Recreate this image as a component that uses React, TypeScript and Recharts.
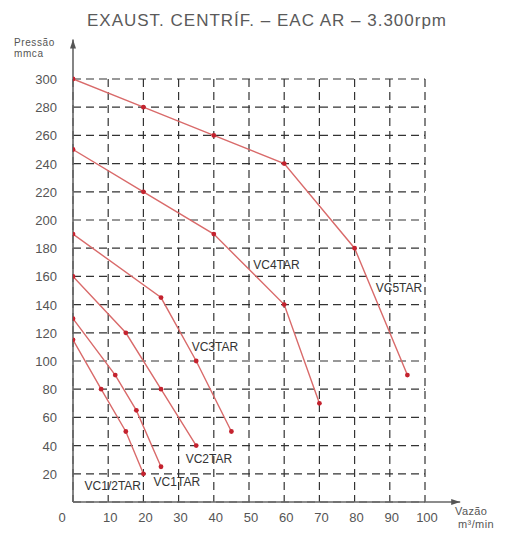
import React from 'react';
import { LineChart, Line, XAxis, YAxis, CartesianGrid, ReferenceLine, ReferenceDot } from 'recharts';

const title = 'EXAUST. CENTRÍF. – EAC AR – 3.300rpm';
const xTicks = [0, 10, 20, 30, 40, 50, 60, 70, 80, 90, 100];
const yTicks = [20, 40, 60, 80, 100, 120, 140, 160, 180, 200, 220, 240, 260, 280, 300];

const seriesNames = ['VC5TAR', 'VC4TAR', 'VC3TAR', 'VC2TAR', 'VC1TAR', 'VC1/2TAR'];

const vc5Flow = [0, 20, 40, 60, 80, 95];
const vc5Press = [300, 280, 260, 240, 180, 90];
const vc4Flow = [0, 20, 40, 60, 70];
const vc4Press = [250, 220, 190, 140, 70];
const vc3Flow = [0, 25, 35, 45];
const vc3Press = [190, 145, 100, 50];
const vc2Flow = [0, 15, 25, 35];
const vc2Press = [160, 120, 80, 40];
const vc1Flow = [0, 12, 18, 25];
const vc1Press = [130, 90, 65, 25];
const vcHalfFlow = [0, 8, 15, 20];
const vcHalfPress = [115, 80, 50, 20];

// label anchors (data coordinates)
const labelFlow = [92.6, 57.8, 40.3, 38.6, 29.5, 11.3];
const labelPress = [152, 168, 110, 31, 14.5, 11.5];

const flows = [vc5Flow, vc4Flow, vc3Flow, vc2Flow, vc1Flow, vcHalfFlow];
const presses = [vc5Press, vc4Press, vc3Press, vc2Press, vc1Press, vcHalfPress];

const seriesData = flows.map((f, i) => f.map((x, j) => ({ x, y: presses[i][j] })));

const LINE_COLOR = '#d96a6a';
const DOT_COLOR = '#c4222e';
const TEXT_COLOR = '#555';
const FONT = 'Liberation Sans, Arial, sans-serif';

const ArrowLine = (props: any) => {
  const { x1, y1, x2, y2 } = props;
  const ang = Math.atan2(y2 - y1, x2 - x1);
  const L = 9;
  const W = 3;
  const bx = x2 - L * Math.cos(ang);
  const by = y2 - L * Math.sin(ang);
  const pts = `${x2},${y2} ${bx + W * Math.sin(ang)},${by - W * Math.cos(ang)} ${bx - W * Math.sin(ang)},${by + W * Math.cos(ang)}`;
  return (
    <g>
      <line x1={x1} y1={y1} x2={x2} y2={y2} stroke="#666" strokeWidth={1.6} />
      <polygon points={pts} fill="#555" />
    </g>
  );
};

const XTick = (props: any) => {
  const { x, y, payload } = props;
  const isZero = payload.value === 0;
  return (
    <text x={x + (isZero ? -11 : 2)} y={y + 12} textAnchor="middle" fill={TEXT_COLOR} fontSize={13} fontFamily={FONT}>
      {payload.value}
    </text>
  );
};

const YTick = (props: any) => {
  const { x, y, payload } = props;
  return (
    <text x={x - 8} y={y + 5} textAnchor="end" fill={TEXT_COLOR} fontSize={13} fontFamily={FONT}>
      {payload.value}
    </text>
  );
};

export default function App() {
  return (
    <div style={{ position: 'absolute', left: 0, top: 0, width: 512, height: 533, background: '#fff', fontFamily: FONT }}>
      <div style={{ position: 'absolute', left: 22, width: 490, top: 11, textAlign: 'center', fontSize: 17, color: '#5a5a5a', letterSpacing: 1, whiteSpace: 'nowrap' }}>
        {title}
      </div>
      <div style={{ position: 'absolute', left: 14, top: 37, fontSize: 10, lineHeight: '11px', color: '#555', letterSpacing: 0.6 }}>
        Pressão<br />mmca
      </div>
      <div style={{ position: 'absolute', left: 455, top: 505, fontSize: 11, lineHeight: '13px', color: '#555', letterSpacing: 0.4 }}>
        Vazão<br /><span style={{ marginLeft: 3 }}>m³/min</span>
      </div>
      <LineChart width={512} height={533} margin={{ top: 79, right: 87, left: 0, bottom: 0 }}>
        <CartesianGrid stroke="#333" strokeWidth={1.2} strokeDasharray="8 5" />
        <XAxis type="number" dataKey="x" domain={[0, 100]} ticks={xTicks} height={31} axisLine={false} tickLine={false} tick={<XTick />} allowDataOverflow interval={0} />
        <YAxis type="number" dataKey="y" domain={[0, 300]} ticks={yTicks} width={73} axisLine={false} tickLine={false} tick={<YTick />} interval={0} />
        <ReferenceLine segment={[{ x: 0, y: 0 }, { x: 0, y: 328 }]} ifOverflow="visible" shape={ArrowLine} />
        <ReferenceLine segment={[{ x: 0, y: 0 }, { x: 110, y: 0 }]} ifOverflow="visible" shape={ArrowLine} />
        {seriesData.map((d, i) => (
          <Line
            key={seriesNames[i]}
            data={d}
            dataKey="y"
            type="linear"
            stroke={LINE_COLOR}
            strokeWidth={1.4}
            dot={{ r: 2.4, fill: DOT_COLOR, stroke: DOT_COLOR, strokeWidth: 0 }}
            isAnimationActive={false}
          />
        ))}
        {seriesNames.map((n, i) => (
          <ReferenceDot
            key={'lbl' + n}
            x={labelFlow[i]}
            y={labelPress[i]}
            r={0}
            fill="none"
            stroke="none"
            ifOverflow="visible"
            label={{ value: n, position: 'center', fill: '#333', fontSize: 12, fontFamily: FONT }}
          />
        ))}
      </LineChart>
    </div>
  );
}
